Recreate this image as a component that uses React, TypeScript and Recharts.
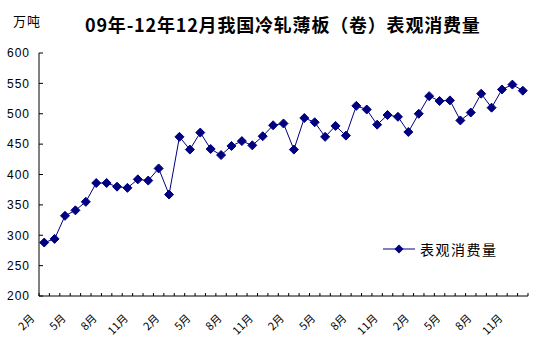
import React from 'react';
import { LineChart, Line, XAxis, YAxis } from 'recharts';

// Feb 2009 .. Dec 2012, monthly
const months = [
  2, 3, 4, 5, 6, 7, 8, 9, 10, 11, 12,
  1, 2, 3, 4, 5, 6, 7, 8, 9, 10, 11, 12,
  1, 2, 3, 4, 5, 6, 7, 8, 9, 10, 11, 12,
  1, 2, 3, 4, 5, 6, 7, 8, 9, 10, 11, 12,
];
const consumption = [
  288, 294, 332, 341, 355, 386, 386, 380, 378, 392, 390,
  410, 367, 462, 441, 469, 442, 432, 447, 455, 448, 463, 481,
  484, 441, 493, 486, 462, 480, 464, 513, 507, 482, 498, 495, 470,
  500, 529, 521, 522, 489, 502, 533, 510, 540, 548, 538,
];
const yTicks = [200, 250, 300, 350, 400, 450, 500, 550, 600];
const seriesName = '表观消费量';
const title = '09年-12年12月我国冷轧薄板（卷）表观消费量';
const unit = '万吨';

const data = consumption.map((v, i) => ({ i, month: months[i], value: v }));

// category centres (for labels) plus category boundaries (for tick marks)
const xTicks: number[] = [];
for (let k = 0; k <= months.length * 2; k++) xTicks.push(k / 2 - 0.5);

const NAVY = '#000080';
const CJK = '"Noto Sans CJK SC", "DejaVu Sans", sans-serif';

const XTick = ({ x, y, payload }: any) => {
  const v = payload.value;
  if (!Number.isInteger(v)) {
    return <line x1={x} y1={y} x2={x} y2={y - 3} stroke="#000" strokeWidth={1} />;
  }
  if (v % 3 !== 0) return null;
  const tx = x - 9;
  const ty = y + 23;
  return (
    <text
      x={tx}
      y={ty}
      transform={`rotate(-45, ${tx}, ${ty})`}
      textAnchor="end"
      fontSize={11}
      fontFamily={CJK}
      fill="#000"
    >
      {`${data[v].month}月`}
    </text>
  );
};

const Diamond = ({ cx, cy }: any) => {
  if (cx == null || cy == null) return null;
  const r = 4.5;
  return (
    <polygon
      points={`${cx},${cy - r} ${cx + r},${cy} ${cx},${cy + r} ${cx - r},${cy}`}
      fill={NAVY}
      stroke={NAVY}
    />
  );
};

const LegendBox = () => (
  <div
    style={{
      position: 'absolute', left: 383, top: 241, display: 'flex', alignItems: 'center',
      fontFamily: CJK, fontSize: 14, letterSpacing: 1.5,
    }}
  >
    <svg width={34} height={12}>
      <line x1={0} y1={6} x2={32} y2={6} stroke={NAVY} strokeWidth={1} />
      <polygon points="16,1.5 20.5,6 16,10.5 11.5,6" fill={NAVY} />
    </svg>
    <span style={{ marginLeft: 3, lineHeight: '16px' }}>{seriesName}</span>
  </div>
);

export default function App() {
  return (
    <div style={{ position: 'absolute', left: 0, top: 0, width: 548, height: 351, background: '#fff' }}>
      <div
        style={{
          position: 'absolute', left: 85, top: 15, fontFamily: CJK, fontSize: 18,
          lineHeight: '18px', fontWeight: 700, letterSpacing: 0.8, whiteSpace: 'nowrap',
        }}
      >
        {title}
      </div>
      <div style={{ position: 'absolute', left: 13, top: 14, fontFamily: CJK, fontSize: 13, lineHeight: '13px', letterSpacing: 1 }}>
        {unit}
      </div>
      <LineChart
        width={548}
        height={351}
        data={data}
        margin={{ top: 53, right: 20, left: 0, bottom: 5 }}
      >
        <XAxis
          dataKey="i"
          type="number"
          domain={[-0.5, months.length - 0.5]}
          ticks={xTicks}
          interval={0}
          tick={<XTick />}
          tickLine={false}
          tickSize={0}
          tickMargin={0}
          height={50}
          axisLine={{ stroke: '#000' }}
          allowDataOverflow
        />
        <YAxis
          domain={[200, 600]}
          ticks={yTicks}
          interval={0}
          width={39}
          tickSize={-4}
          tickMargin={13}
          axisLine={{ stroke: '#000' }}
          tickLine={{ stroke: '#000' }}
          tick={{ fill: '#000', fontSize: 12, fontFamily: '"Liberation Sans", sans-serif', letterSpacing: 1 }}
        />
        <Line
          type="linear"
          dataKey="value"
          name={seriesName}
          stroke={NAVY}
          strokeWidth={1}
          dot={<Diamond />}
          activeDot={false}
          isAnimationActive={false}
        />
      </LineChart>
      <LegendBox />
    </div>
  );
}
